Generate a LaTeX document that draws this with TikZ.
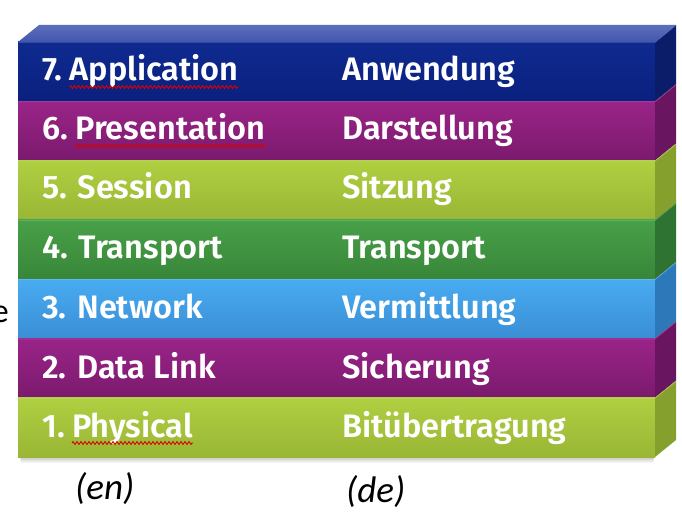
\documentclass[tikz,border=0pt]{standalone}
\usepackage{fontspec}
\setmainfont{Fira Sans}
\newfontfamily\labfont{Fira Sans SemiBold}
\newfontfamily\calfont{Carlito}
\usetikzlibrary{decorations.pathmorphing}
\definecolor{blueF}{HTML}{0F2A90}\definecolor{blueB}{HTML}{0A207E}\definecolor{blueS}{HTML}{0B1C68}\definecolor{blueT}{HTML}{4156AE}
\definecolor{purF}{HTML}{9A2488}\definecolor{purB}{HTML}{7B1A6D}\definecolor{purS}{HTML}{6A1560}
\definecolor{limF}{HTML}{B0CF41}\definecolor{limB}{HTML}{99B635}\definecolor{limS}{HTML}{86A02E}
\definecolor{grnF}{HTML}{48A048}\definecolor{grnB}{HTML}{388639}\definecolor{grnS}{HTML}{2E7332}
\definecolor{bluF}{HTML}{49ACF0}\definecolor{bluB}{HTML}{3A8ED6}\definecolor{bluS}{HTML}{2D78B8}
\tikzset{
  lab/.style={font=\labfont\fontsize{32.5}{32.5}\selectfont, text=white, inner sep=0pt, anchor=base west},
  foot/.style={font=\calfont\itshape\fontsize{37}{37}\selectfont, text=black, inner sep=0pt, anchor=base west},
  spell/.style={draw=red!85!black, line width=0.9pt, decorate, decoration={zigzag, amplitude=1.4pt, segment length=4pt}}
}
\newcommand{\layer}[6]{% top y, bottom y, front top colour, front bottom colour, side colour, name
  \shade[top color=#3, bottom color=#4] (18,#1) rectangle (655,#2);
  \fill[#5] (655,#1) -- (676,#1-17) -- (676,#2-17) -- (655,#2) -- cycle;
  \draw[#3!70!white, opacity=0.5, line width=0.8pt] (18,#1+0.5) -- (655,#1+0.5) -- (676,#1-16.5);
}
\begin{document}
\begin{tikzpicture}[x=1pt,y=-1pt]
\useasboundingbox (0,0) rectangle (682,518);
\clip (0,0) rectangle (682,518);
% shadow
\foreach \i in {1,...,6} {
  \fill[black, opacity=0.04] (18+\i*0.5,457) rectangle (655-\i*0.3,457+\i);
}
% layers
\layer{42}{101.3}{blueF}{blueB}{blueS}{l7}
\layer{101.3}{160.6}{purF}{purB}{purS}{l6}
\layer{160.6}{219.9}{limF}{limB}{limS}{l5}
\layer{219.9}{279.1}{grnF}{grnB}{grnS}{l4}
\layer{279.1}{338.4}{bluF}{bluB}{bluS}{l3}
\layer{338.4}{397.7}{purF}{purB}{purS}{l2}
\layer{397.7}{457}{limF}{limB}{limS}{l1}
% top face
\shade[top color=blueT!85!white, bottom color=blueT] (18,42) -- (39,25) -- (676,25) -- (655,42) -- cycle;
% left labels
\node[lab] (n7) at (42,81) {7.};
\node[lab] (w7) at ([xshift=7]n7.base east) {Application};
\node[lab] (n6) at (42,140) {6.};
\node[lab] (w6) at ([xshift=7]n6.base east) {Presentation};
\node[lab] (e5) at (42,199) {5. Session};
\node[lab] (e4) at (42,259) {4. Transport};
\node[lab] (e3) at (42,318) {3. Network};
\node[lab] (e2) at (42,378) {2. Data Link};
\node[lab] (n1) at (42,437) {1.};
\node[lab] (w1) at ([xshift=7]n1.base east) {Physical};
% right labels
\node[lab] (d7) at (342,81) {Anwendung};
\node[lab] (d6) at (342,140) {Darstellung};
\node[lab] (d5) at (342,199) {Sitzung};
\node[lab] (d4) at (342,259) {Transport};
\node[lab] (d3) at (342,318) {Vermittlung};
\node[lab] (d2) at (342,378) {Sicherung};
\node[lab] (d1) at (342,437) {Bitübertragung};
% spell-check underlines
\draw[spell] ([yshift=-6]w7.base west) -- ([yshift=-6]w7.base east);
\draw[spell] ([yshift=-6]w6.base west) -- ([yshift=-6]w6.base east);
\draw[spell] ([yshift=-6]w1.base west) -- ([yshift=-6]w1.base east);
% footer
\node[foot] (en) at (75,499) {(en)};
\node[foot] (de) at (346,502) {(de)};
% clipped letter at left edge
\node[font=\calfont\fontsize{34}{34}\selectfont, inner sep=0pt, anchor=base east] (cut) at (9,323) {e};
\end{tikzpicture}
\end{document}
